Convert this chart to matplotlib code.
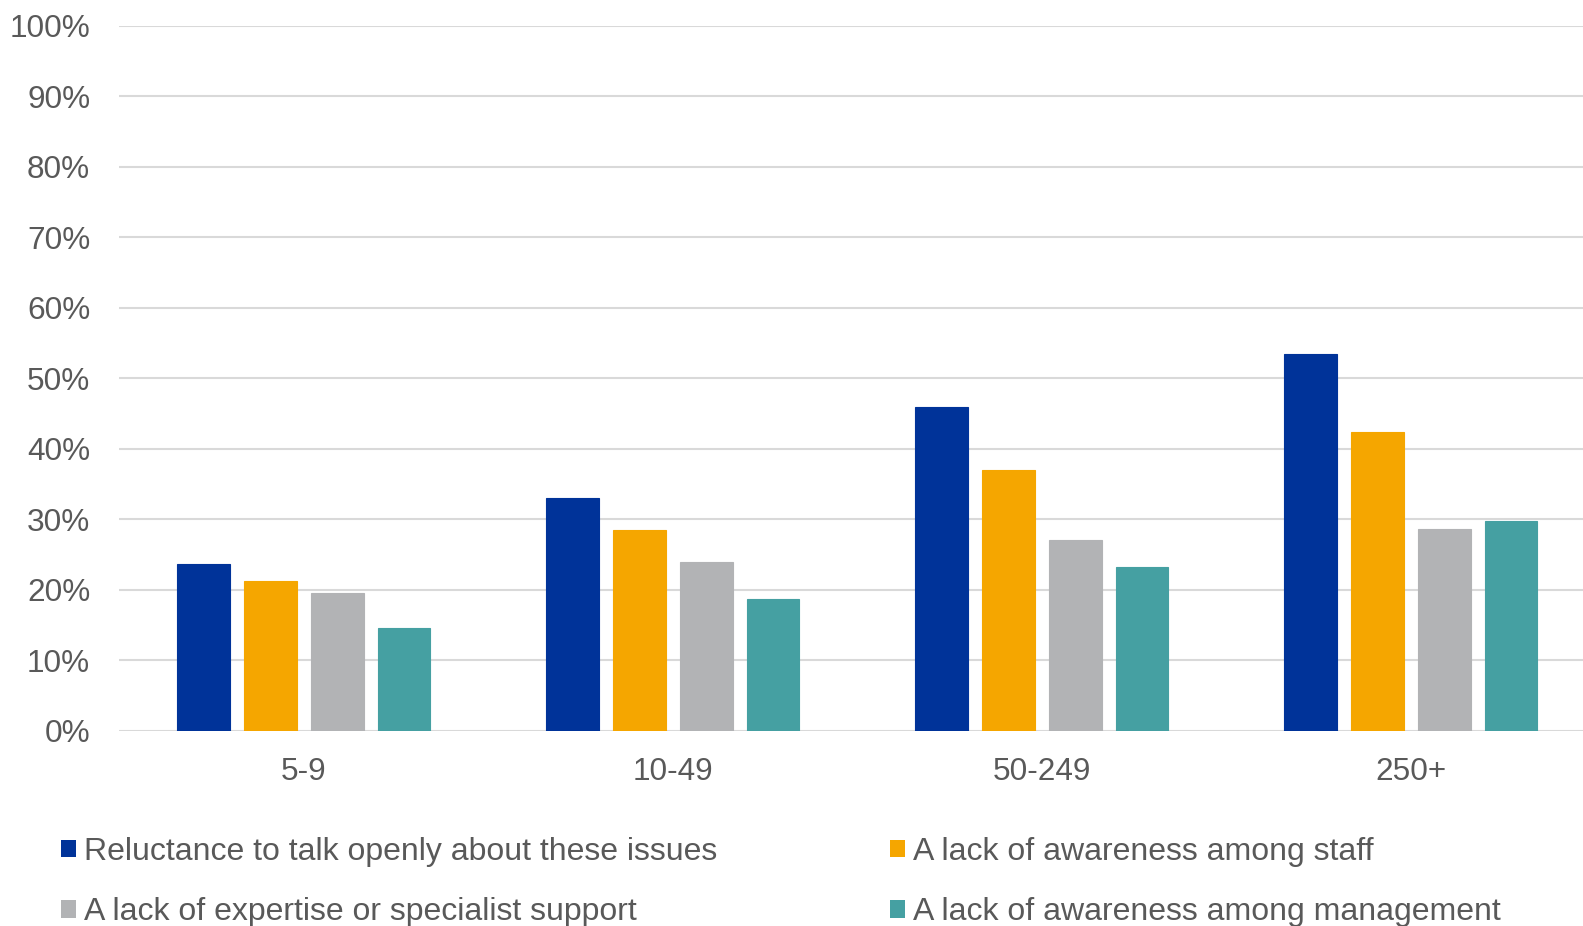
import matplotlib
matplotlib.use("Agg")
import matplotlib.pyplot as plt
from matplotlib.patches import Patch
import numpy as np

categories = ["5-9", "10-49", "50-249", "250+"]
series_names = [
    "Reluctance to talk openly about these issues",
    "A lack of awareness among staff",
    "A lack of expertise or specialist support",
    "A lack of awareness among management",
]
reluctance = [23.6, 33.0, 45.9, 53.5]
aware_staff = [21.2, 28.4, 37.0, 42.3]
expertise = [19.6, 24.0, 27.0, 28.6]
aware_mgmt = [14.5, 18.7, 23.2, 29.8]
colors = ["#003399", "#F5A600", "#B2B3B5", "#45A0A2"]
yticks = list(range(0, 101, 10))

plt.rcParams['font.family'] = ['Liberation Sans', 'DejaVu Sans']
txt = "#595959"

fig = plt.figure(figsize=(15.83, 9.26), dpi=100)
ax = fig.add_axes([119.3 / 1583, 195.3 / 926, 4 * 369 / 1583, 705 / 926])

x = np.arange(len(categories))
width = 0.1423
pitch = 0.1813
data = [reluctance, aware_staff, expertise, aware_mgmt]
for i, (vals, c) in enumerate(zip(data, colors)):
    ax.bar(x + (i - 1.5) * pitch, vals, width=width, color=c, zorder=3,
           edgecolor=c, linewidth=0.8)

ax.set_xlim(-0.5, 3.5)
ax.set_ylim(0, 100)
ax.set_yticks(yticks)
ax.set_yticklabels([f"{v}%" for v in yticks])
ax.set_xticks(x)
ax.set_xticklabels(categories)
ax.grid(axis='y', color='#D9D9D9', linewidth=1.5, zorder=0)
ax.set_axisbelow(True)
for s in ax.spines.values():
    s.set_visible(False)
ax.tick_params(axis='both', length=0, labelsize=22.7, labelcolor=txt)
ax.tick_params(axis='y', pad=21)
ax.tick_params(axis='x', pad=18.6)

handles = [Patch(facecolor=c, edgecolor='none') for c in colors]
order = [0, 2, 1, 3]
leg = fig.legend([handles[i] for i in order], [series_names[i] for i in order],
                 ncol=2, loc='upper left', bbox_to_anchor=(60.6 / 1583, 0.0964),
                 bbox_transform=fig.transFigure, frameon=False, borderpad=0,
                 borderaxespad=0, fontsize=23, handlelength=0.47, handleheight=0.47,
                 handletextpad=0.26, columnspacing=5.4, labelspacing=0.96)
for t in leg.get_texts():
    t.set_color(txt)

fig.savefig("out.png", dpi=100)
